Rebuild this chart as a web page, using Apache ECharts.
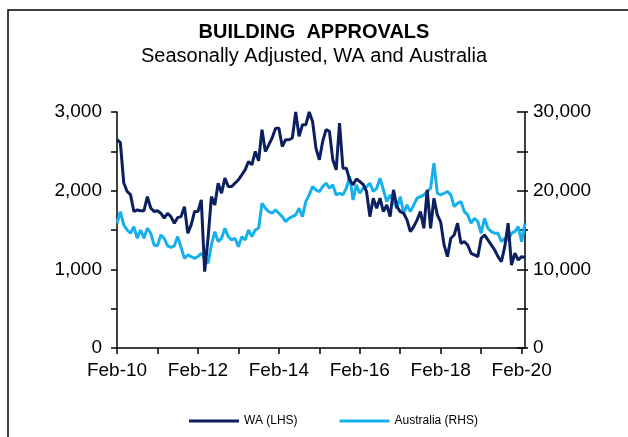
<!DOCTYPE html>
<html>
<head>
<meta charset="utf-8">
<script src="https://cdn.jsdelivr.net/npm/echarts@6/dist/echarts.min.js"></script>
<style>html,body{margin:0;padding:0;background:#fff}#c{width:628px;height:437px}</style>
</head>
<body>
<div id="c"></div>
<script>
// Monthly categories Feb-10 .. Mar-20
const monthNames = ['Jan','Feb','Mar','Apr','May','Jun','Jul','Aug','Sep','Oct','Nov','Dec'];
const categories = [];
for (let y = 2010, m = 1; !(y === 2020 && m === 3); ) {
  categories.push(monthNames[m] + '-' + String(y).slice(2));
  m++; if (m === 12) { m = 0; y++; }
}
const tickLabels = ['Feb-10','Feb-12','Feb-14','Feb-16','Feb-18','Feb-20'];
const minorTicks = ['Feb-11','Feb-13','Feb-15','Feb-17','Feb-19'];
const leftTicks = [0, 1000, 2000, 3000];
const rightTicks = [0, 10000, 20000, 30000];

// WA building approvals (LHS)
const wa = [
2650,2610,2100,1990,1950,1735,1755,1745,1745,1925,
1780,1735,1745,1713,1650,1713,1670,1586,1658,1670,
1797,1459,1565,1734,1734,1883,970,1395,1925,1819,
2095,1968,2159,2053,2053,2095,2138,2201,2265,2371,
2329,2498,2380,2775,2498,2583,2669,2790,2796,2562,
2647,2647,2669,3000,2690,2838,2838,3000,2880,2541,
2392,2626,2775,2753,2392,2265,2860,2286,2286,2138,
2074,2150,2116,2080,1990,1670,1904,1777,1904,1734,
1819,1670,2010,1797,1734,1713,1628,1479,1543,1628,
1734,1522,2010,1522,1904,1691,1600,1310,1161,1395,
1437,1586,1331,1352,1310,1204,1183,1161,1395,1437,
1374,1310,1246,1161,1097,1289,1586,1055,1204,1119,
1161,1150];

// Australia building approvals (RHS)
const australia = [
15860,17340,15650,15000,14590,15430,13950,15000,13950,15220,
14590,13100,12990,14370,13950,12990,12780,12990,14160,12780,
11400,11830,11610,11400,11610,12040,11400,10760,13100,14790,
13520,13950,15220,14160,13740,13950,12880,14160,13740,15000,
14160,15000,15220,18400,17770,17340,17130,17550,17130,16700,
16070,16490,16700,16920,17770,16700,18610,19460,20520,20100,
19890,20520,20950,20310,20740,19460,19670,19460,20310,21800,
18820,20740,19670,20310,20520,20950,19890,20310,21590,20100,
18610,19460,18610,17770,19250,17130,18190,17340,18190,19040,
19250,19460,19890,20310,23500,19670,19460,19670,19890,19460,
17980,18400,18610,17340,16920,15860,16490,16070,14590,16490,
15220,14790,14590,14590,13520,13950,13740,14590,14790,15430,
13520,15860];

const FONT = '"Liberation Sans", Arial, sans-serif';
const chart = echarts.init(document.getElementById('c'), null, {renderer: 'canvas'});
const fmtL = v => leftTicks.includes(v) ? v.toLocaleString('en-US') : '';
const fmtR = v => rightTicks.includes(v) ? v.toLocaleString('en-US') : '';
const axisLineStyle = {color: '#000', width: 1.5};

chart.setOption({
  animation: false,
  backgroundColor: '#fff',
  graphic: [{
    type: 'rect', shape: {x: 8, y: 10, width: 700, height: 500},
    style: {fill: 'none', stroke: '#000', lineWidth: 1.5}, silent: true, z: -10
  }],
  title: [
    {text: 'BUILDING  APPROVALS', left: 'center', top: 17,
     textStyle: {fontFamily: FONT, fontSize: 20, fontWeight: 'bold', color: '#000'}},
    {text: 'Seasonally Adjusted, WA and Australia', left: 'center', top: 41,
     textStyle: {fontFamily: FONT, fontSize: 20, fontWeight: 'normal', color: '#000'}}
  ],
  legend: {
    left: 184, top: 410, itemGap: 42, itemWidth: 50, itemHeight: 3, icon: 'rect',
    textStyle: {fontFamily: FONT, fontSize: 12, color: '#000'},
    data: ['WA (LHS)', 'Australia (RHS)']
  },
  grid: {left: 117, right: 103, top: 112, bottom: 89},
  xAxis: {
    type: 'category', data: categories, boundaryGap: false,
    axisLine: {lineStyle: axisLineStyle},
    axisTick: {length: 6, lineStyle: {color: '#000', width: 1.5},
      interval: (i, v) => tickLabels.includes(v) || minorTicks.includes(v)},
    axisLabel: {interval: (i, v) => tickLabels.includes(v), margin: 13,
      fontFamily: FONT, fontSize: 19, color: '#000'},
    splitLine: {show: false}
  },
  yAxis: [
    {type: 'value', min: 0, max: 3000, interval: 500, position: 'left',
     axisLine: {show: true, lineStyle: axisLineStyle},
     axisTick: {show: true, length: 6, lineStyle: {color: '#000', width: 1.5}},
     axisLabel: {formatter: fmtL, margin: 15, fontFamily: FONT, fontSize: 19, color: '#000'},
     splitLine: {show: false}},
    {type: 'value', min: 0, max: 30000, interval: 5000, position: 'right',
     axisLine: {show: true, lineStyle: axisLineStyle},
     axisTick: {show: true, inside: true, length: 8, lineStyle: {color: '#000', width: 1.5}},
     axisLabel: {formatter: fmtR, margin: 8, fontFamily: FONT, fontSize: 19, color: '#000'},
     splitLine: {show: false}},
    {type: 'value', min: 0, max: 30000, interval: 5000, position: 'right',
     axisLine: {show: false},
     axisTick: {show: true, inside: false, length: 3, lineStyle: {color: '#000', width: 1.5}},
     axisLabel: {show: false},
     splitLine: {show: false}}
  ],
  series: [
    {name: 'WA (LHS)', type: 'line', yAxisIndex: 0, data: wa, showSymbol: false,
     lineStyle: {color: '#0c1f5e', width: 3}, itemStyle: {color: '#0c1f5e'}, z: 3},
    {name: 'Australia (RHS)', type: 'line', yAxisIndex: 1, data: australia, showSymbol: false,
     lineStyle: {color: '#16b1ec', width: 3}, itemStyle: {color: '#16b1ec'}, z: 2}
  ]
});
</script>
</body>
</html>
